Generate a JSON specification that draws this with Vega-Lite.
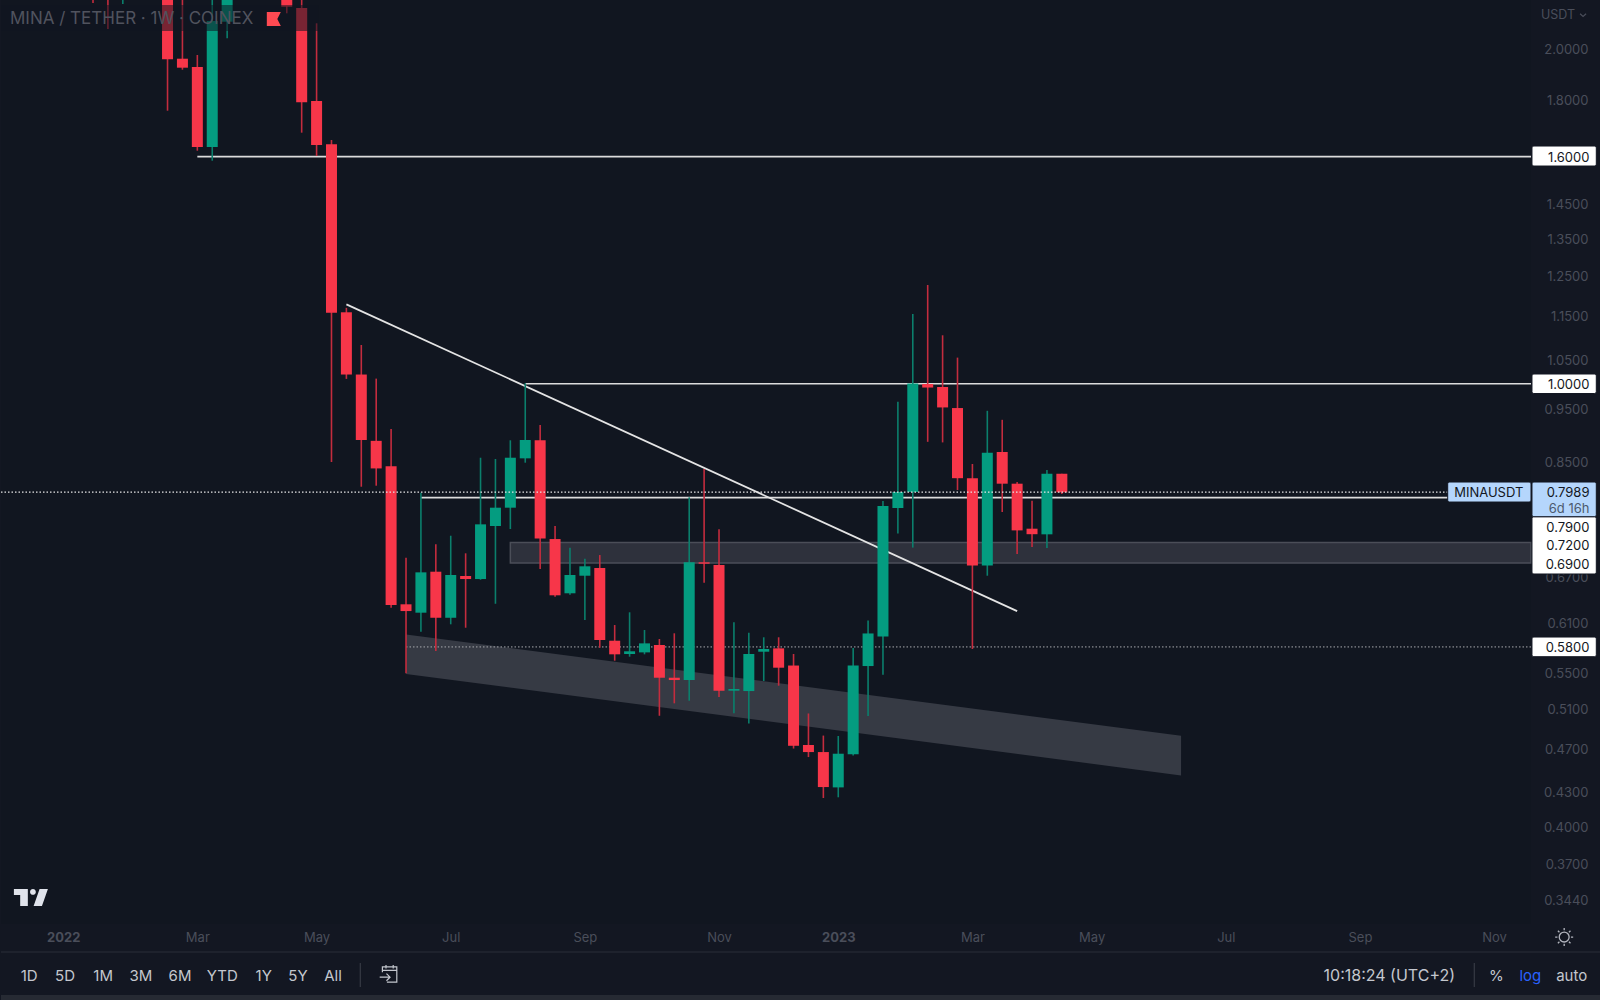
{
  "$schema": "https://vega.github.io/schema/vega-lite/v6.json",
  "description": "MINA / TETHER weekly candles with drawn levels",
  "background": "#131722",
  "padding": 0,
  "spacing": 28,
  "bounds": "flush",
  "config": {"font": "Inter", "view": {"stroke": null}},
  "datasets": {
    "weeks": [
      {"date": "2022-01-17", "open": 2.6, "high": 2.7, "low": 2.199, "close": 2.45},
      {"date": "2022-01-24", "open": 2.9, "high": 3.0, "low": 2.0837, "close": 2.5},
      {"date": "2022-01-31", "open": 2.3, "high": 2.7, "low": 2.194, "close": 2.6},
      {"date": "2022-02-21", "open": 2.35, "high": 2.6, "low": 1.7594, "close": 1.957},
      {"date": "2022-02-28", "open": 1.9593, "high": 2.5, "low": 1.9152, "close": 1.9232},
      {"date": "2022-03-07", "open": 1.926, "high": 1.9744, "low": 1.6196, "close": 1.6321},
      {"date": "2022-03-14", "open": 1.6321, "high": 2.5, "low": 1.5865, "close": 2.1183},
      {"date": "2022-03-21", "open": 2.1152, "high": 2.6, "low": 2.0438, "close": 2.45},
      {"date": "2022-04-18", "open": 2.4, "high": 2.5, "low": 2.1524, "close": 2.182},
      {"date": "2022-04-25", "open": 2.1761, "high": 2.5, "low": 1.6812, "close": 1.7902},
      {"date": "2022-05-02", "open": 1.7951, "high": 2.1083, "low": 1.602, "close": 1.6389},
      {"date": "2022-05-09", "open": 1.6412, "high": 1.6559, "low": 0.8504, "close": 1.1583},
      {"date": "2022-05-16", "open": 1.1593, "high": 1.17, "low": 1.01, "close": 1.0192},
      {"date": "2022-05-23", "open": 1.0192, "high": 1.0834, "low": 0.808, "close": 0.89},
      {"date": "2022-05-30", "open": 0.8885, "high": 1.0106, "low": 0.8097, "close": 0.8392},
      {"date": "2022-06-06", "open": 0.8429, "high": 0.9105, "low": 0.629, "close": 0.6326},
      {"date": "2022-06-13", "open": 0.6335, "high": 0.6976, "low": 0.5492, "close": 0.6247},
      {"date": "2022-06-20", "open": 0.6226, "high": 0.798, "low": 0.5985, "close": 0.6768},
      {"date": "2022-06-27", "open": 0.6777, "high": 0.7172, "low": 0.5751, "close": 0.6161},
      {"date": "2022-07-04", "open": 0.6161, "high": 0.7301, "low": 0.6078, "close": 0.6731},
      {"date": "2022-07-11", "open": 0.6717, "high": 0.704, "low": 0.6035, "close": 0.6675},
      {"date": "2022-07-18", "open": 0.6675, "high": 0.858, "low": 0.6665, "close": 0.7475},
      {"date": "2022-07-25", "open": 0.7449, "high": 0.8557, "low": 0.6342, "close": 0.7737},
      {"date": "2022-08-01", "open": 0.7737, "high": 0.8895, "low": 0.7403, "close": 0.858},
      {"date": "2022-08-08", "open": 0.8569, "high": 1.0008, "low": 0.8492, "close": 0.89},
      {"date": "2022-08-15", "open": 0.8895, "high": 0.9181, "low": 0.6815, "close": 0.7261},
      {"date": "2022-08-22", "open": 0.7251, "high": 0.7449, "low": 0.6435, "close": 0.6454},
      {"date": "2022-08-29", "open": 0.6481, "high": 0.7122, "low": 0.6462, "close": 0.6731},
      {"date": "2022-09-05", "open": 0.6721, "high": 0.6962, "low": 0.6132, "close": 0.6853},
      {"date": "2022-09-12", "open": 0.6829, "high": 0.7015, "low": 0.579, "close": 0.5884},
      {"date": "2022-09-19", "open": 0.5875, "high": 0.6069, "low": 0.5637, "close": 0.5712},
      {"date": "2022-09-26", "open": 0.5716, "high": 0.6231, "low": 0.5684, "close": 0.5748},
      {"date": "2022-10-03", "open": 0.5735, "high": 0.6007, "low": 0.5712, "close": 0.5843},
      {"date": "2022-10-10", "open": 0.5823, "high": 0.5896, "low": 0.503, "close": 0.5442},
      {"date": "2022-10-17", "open": 0.5442, "high": 0.5966, "low": 0.5161, "close": 0.5416},
      {"date": "2022-10-24", "open": 0.5416, "high": 0.7905, "low": 0.5189, "close": 0.691},
      {"date": "2022-10-31", "open": 0.691, "high": 0.8382, "low": 0.6624, "close": 0.689},
      {"date": "2022-11-07", "open": 0.6871, "high": 0.7398, "low": 0.5229, "close": 0.5298},
      {"date": "2022-11-14", "open": 0.5298, "high": 0.6103, "low": 0.5056, "close": 0.5316},
      {"date": "2022-11-21", "open": 0.5294, "high": 0.5973, "low": 0.495, "close": 0.5716},
      {"date": "2022-11-28", "open": 0.5743, "high": 0.5917, "low": 0.5405, "close": 0.5775},
      {"date": "2022-12-05", "open": 0.5783, "high": 0.5917, "low": 0.5353, "close": 0.5556},
      {"date": "2022-12-12", "open": 0.5581, "high": 0.5716, "low": 0.47, "close": 0.4727},
      {"date": "2022-12-19", "open": 0.4735, "high": 0.5054, "low": 0.4618, "close": 0.4666},
      {"date": "2022-12-26", "open": 0.4666, "high": 0.4828, "low": 0.4243, "close": 0.434},
      {"date": "2023-01-02", "open": 0.4337, "high": 0.4824, "low": 0.4249, "close": 0.465},
      {"date": "2023-01-09", "open": 0.4644, "high": 0.5787, "low": 0.4634, "close": 0.5582},
      {"date": "2023-01-16", "open": 0.5575, "high": 0.6127, "low": 0.5027, "close": 0.5964},
      {"date": "2023-01-23", "open": 0.5926, "high": 0.7844, "low": 0.5476, "close": 0.7764},
      {"date": "2023-01-30", "open": 0.7732, "high": 0.9636, "low": 0.7334, "close": 0.7992},
      {"date": "2023-02-06", "open": 0.7992, "high": 1.1552, "low": 0.7124, "close": 1.0006},
      {"date": "2023-02-13", "open": 0.9994, "high": 1.2266, "low": 0.8867, "close": 0.9921},
      {"date": "2023-02-20", "open": 0.9932, "high": 1.1054, "low": 0.8856, "close": 0.9521},
      {"date": "2023-02-27", "open": 0.9509, "high": 1.0555, "low": 0.8025, "close": 0.8224},
      {"date": "2023-03-06", "open": 0.8224, "high": 0.8469, "low": 0.5775, "close": 0.6866},
      {"date": "2023-03-13", "open": 0.6866, "high": 0.9455, "low": 0.6721, "close": 0.8668},
      {"date": "2023-03-20", "open": 0.8682, "high": 0.928, "low": 0.7668, "close": 0.8131},
      {"date": "2023-03-27", "open": 0.8131, "high": 0.8159, "low": 0.703, "close": 0.7382},
      {"date": "2023-04-03", "open": 0.7408, "high": 0.7848, "low": 0.7132, "close": 0.7324},
      {"date": "2023-04-10", "open": 0.7322, "high": 0.8364, "low": 0.7118, "close": 0.83},
      {"date": "2023-04-17", "open": 0.83, "high": 0.83, "low": 0.7959, "close": 0.7987}
    ],
    "levels": [
      {"price": 1.6, "start": "2022-03-07", "end": "2023-11-23T08:00:00Z"},
      {"price": 1.0, "start": "2022-08-08", "end": "2023-11-23T08:00:00Z"},
      {"price": 0.79, "start": "2022-06-20", "end": "2023-11-23T08:00:00Z"}
    ],
    "tags": [
      {"kind": "white", "start": "2023-11-23T19:00:00Z", "end": "2023-12-24", "top": 1.6354, "bottom": 1.5691},
      {"kind": "white", "start": "2023-11-23T19:00:00Z", "end": "2023-12-24", "top": 1.0203, "bottom": 0.9799},
      {"kind": "white", "start": "2023-11-23T19:00:00Z", "end": "2023-12-24", "top": 0.7594, "bottom": 0.6745},
      {"kind": "white", "start": "2023-11-23T19:00:00Z", "end": "2023-12-24", "top": 0.592, "bottom": 0.5684},
      {"kind": "blue", "start": "2023-11-23T19:00:00Z", "end": "2023-12-24", "top": 0.8159, "bottom": 0.7594},
      {"kind": "blue", "start": "2023-10-15T05:00:00Z", "end": "2023-11-23T08:00:00Z", "top": 0.8159, "bottom": 0.7828}
    ],
    "tagLabels": [
      {"label": "1.6000", "date": "2023-12-20T19:00:00Z", "price": 1.6},
      {"label": "1.0000", "date": "2023-12-20T19:00:00Z", "price": 1.0},
      {"label": "0.7989", "date": "2023-12-20T19:00:00Z", "price": 0.7987},
      {"label": "6d 16h", "date": "2023-12-20T19:00:00Z", "price": 0.7737},
      {"label": "0.7900", "date": "2023-12-20T19:00:00Z", "price": 0.7439},
      {"label": "0.7200", "date": "2023-12-20T19:00:00Z", "price": 0.7162},
      {"label": "0.6900", "date": "2023-12-20T19:00:00Z", "price": 0.6886},
      {"label": "0.5800", "date": "2023-12-20T19:00:00Z", "price": 0.58}
    ],
    "toolbar": [
      {"label": "1D", "slot": 28.2},
      {"label": "5D", "slot": 64},
      {"label": "1M", "slot": 102.2},
      {"label": "3M", "slot": 140},
      {"label": "6M", "slot": 179},
      {"label": "YTD", "slot": 221.3},
      {"label": "1Y", "slot": 262.7},
      {"label": "5Y", "slot": 297},
      {"label": "All", "slot": 332},
      {"label": "%", "slot": 1495.3},
      {"label": "log", "slot": 1529.3},
      {"label": "auto", "slot": 1570.7}
    ]
  },
  "vconcat": [
    {
      "width": 1530,
      "height": 924,
      "view": {"fill": "#111620", "stroke": null},
      "layer": [
        {
          "data": {"values": [
            {"date": "2022-06-13", "top": 0.5951, "bottom": 0.5484},
            {"date": "2023-06-12", "top": 0.4827, "bottom": 0.4446}
          ]},
          "mark": {"type": "area", "color": "#363a44"},
          "encoding": {
            "x": {
              "field": "date",
              "type": "temporal",
              "title": null,
              "scale": {"type": "utc", "padding": 0, "domain": ["2021-12-04T19:00:00Z", "2023-11-23T08:00:00Z"]},
              "axis": {
                "values": ["2022-01-03", "2022-03-07", "2022-05-02", "2022-07-04", "2022-09-05", "2022-11-07", "2023-01-02", "2023-03-06", "2023-05-01", "2023-07-03", "2023-09-04", "2023-11-06"],
                "labelExpr": "utcmonth(datum.value)==0 ? utcFormat(datum.value,'%Y') : utcFormat(datum.value,'%b')",
                "labelFontWeight": {"condition": {"test": "utcmonth(datum.value)==0", "value": "bold"}, "value": "normal"},
                "labelColor": "#4a4e5a",
                "labelFontSize": 13,
                "labelPadding": 7,
                "labelOverlap": false,
                "labelFlush": false,
                "domain": false,
                "ticks": false,
                "grid": false,
                "title": null
              }
            },
            "y": {
              "field": "top",
              "type": "quantitative",
              "title": null,
              "scale": {"type": "log", "domain": [0.3269, 2.2124], "nice": false},
              "axis": {
                "orient": "right",
                "values": [2, 1.8, 1.45, 1.35, 1.25, 1.15, 1.05, 0.95, 0.85, 0.67, 0.61, 0.55, 0.51, 0.47, 0.43, 0.4, 0.37, 0.344],
                "format": ".4f",
                "labelAlign": "right",
                "labelPadding": 57,
                "labelOffset": 0.7,
                "labelColor": "#4a4e5a",
                "labelFontSize": 13,
                "labelOverlap": false,
                "labelFlush": false,
                "domain": false,
                "ticks": false,
                "grid": false,
                "title": null
              }
            },
            "y2": {"field": "bottom"}
          }
        },
        {
          "data": {"values": [{"start": "2022-08-01", "end": "2023-11-23T08:00:00Z", "top": 0.72, "bottom": 0.69}]},
          "mark": {"type": "rect", "fill": "#2e313c", "stroke": "#4b4e58", "strokeWidth": 1.5},
          "encoding": {
            "x": {"field": "start", "type": "temporal"},
            "x2": {"field": "end"},
            "y": {"field": "top", "type": "quantitative"},
            "y2": {"field": "bottom"}
          }
        },
        {
          "data": {"name": "levels"},
          "mark": {"type": "rule", "color": "#dcdcdc", "strokeWidth": 1.6},
          "encoding": {
            "x": {"field": "start", "type": "temporal"},
            "x2": {"field": "end"},
            "y": {"field": "price", "type": "quantitative"}
          }
        },
        {
          "data": {"values": [{"price": 0.58, "start": "2022-06-13", "end": "2023-11-23T08:00:00Z"}]},
          "mark": {"type": "rule", "color": "#a8aab0", "strokeWidth": 1, "strokeDash": [1.5, 2]},
          "encoding": {
            "x": {"field": "start", "type": "temporal"},
            "x2": {"field": "end"},
            "y": {"field": "price", "type": "quantitative"}
          }
        },
        {
          "data": {"values": [
            {"date": "2022-05-16", "price": 1.1786},
            {"date": "2023-03-27", "price": 0.6247}
          ]},
          "mark": {"type": "line", "color": "#e4e4e4", "strokeWidth": 1.8},
          "encoding": {
            "x": {"field": "date", "type": "temporal"},
            "y": {"field": "price", "type": "quantitative"}
          }
        },
        {
          "data": {"name": "weeks"},
          "mark": {"type": "rule", "strokeWidth": 1.6, "clip": true},
          "encoding": {
            "x": {"field": "date", "type": "temporal"},
            "y": {"field": "low", "type": "quantitative"},
            "y2": {"field": "high"},
            "color": {"condition": {"test": "datum.close >= datum.open", "value": "#0b7f6c"}, "value": "#c42c3e"}
          }
        },
        {
          "data": {"name": "weeks"},
          "mark": {"type": "bar", "size": 11, "clip": true},
          "encoding": {
            "x": {"field": "date", "type": "temporal"},
            "y": {"field": "open", "type": "quantitative"},
            "y2": {"field": "close"},
            "color": {"condition": {"test": "datum.close >= datum.open", "value": "#049c80"}, "value": "#f73649"}
          }
        },
        {
          "data": {"values": [{"start": "2021-12-04T19:00:00Z", "end": "2022-05-03", "top": 2.1897, "bottom": 2.0749}]},
          "mark": {"type": "rect", "fill": "#111620", "opacity": 0.55},
          "encoding": {
            "x": {"field": "start", "type": "temporal"},
            "x2": {"field": "end"},
            "y": {"field": "top", "type": "quantitative"},
            "y2": {"field": "bottom"}
          }
        },
        {
          "data": {"values": [{"title": "MINA / TETHER · 1W · COINEX", "date": "2021-12-09T00:00:00Z", "price": 2.127}]},
          "mark": {"type": "text", "align": "left", "baseline": "middle", "fontSize": 17, "color": "#50535e"},
          "encoding": {
            "x": {"field": "date", "type": "temporal"},
            "y": {"field": "price", "type": "quantitative"},
            "text": {"field": "title"}
          }
        },
        {
          "data": {"values": [{"date": "2022-04-11T22:00:00Z", "price": 2.127}]},
          "mark": {"type": "point", "shape": "M-1,-1L1,-1L.5,0L1,1L-1,1Z", "size": 196, "filled": true, "fill": "#ff4a52", "stroke": null, "opacity": 1},
          "encoding": {
            "x": {"field": "date", "type": "temporal"},
            "y": {"field": "price", "type": "quantitative"}
          }
        },
        {
          "data": {"values": [{"price": 0.7989, "start": "2021-12-04T19:00:00Z", "end": "2023-10-15T05:00:00Z"}]},
          "mark": {"type": "rule", "color": "#e6e6e6", "strokeWidth": 1.2, "strokeDash": [1.5, 2]},
          "encoding": {
            "x": {"field": "start", "type": "temporal"},
            "x2": {"field": "end"},
            "y": {"field": "price", "type": "quantitative"}
          }
        },
        {
          "data": {"name": "tags"},
          "mark": {"type": "rect", "cornerRadius": 2, "stroke": "#131722", "strokeWidth": 1},
          "encoding": {
            "x": {"field": "start", "type": "temporal"},
            "x2": {"field": "end"},
            "y": {"field": "top", "type": "quantitative"},
            "y2": {"field": "bottom"},
            "fill": {"field": "kind", "type": "nominal", "legend": null, "scale": {"domain": ["blue", "white"], "range": ["#b5d6fc", "#ffffff"]}}
          }
        },
        {
          "data": {"name": "tagLabels"},
          "mark": {"type": "text", "align": "right", "baseline": "middle", "fontSize": 13, "dy": 1},
          "encoding": {
            "x": {"field": "date", "type": "temporal"},
            "y": {"field": "price", "type": "quantitative"},
            "text": {"field": "label"},
            "color": {"condition": {"test": "datum.label == '6d 16h'", "value": "#4c5a6e"}, "value": "#131722"}
          }
        },
        {
          "data": {"values": [{"label": "MINAUSDT", "date": "2023-11-03T12:00:00Z", "price": 0.7987}]},
          "mark": {"type": "text", "align": "center", "baseline": "middle", "fontSize": 13, "dy": 1, "color": "#131722"},
          "encoding": {
            "x": {"field": "date", "type": "temporal"},
            "y": {"field": "price", "type": "quantitative"},
            "text": {"field": "label"}
          }
        },
        {
          "data": {"values": [{"label": "USDT", "date": "2023-12-14T00:00:00Z", "price": 2.1447}]},
          "mark": {"type": "text", "align": "right", "baseline": "middle", "fontSize": 12.5, "color": "#4a4e5a"},
          "encoding": {
            "x": {"field": "date", "type": "temporal"},
            "y": {"field": "price", "type": "quantitative"},
            "text": {"field": "label"}
          }
        },
        {
          "data": {"values": [{"date": "2023-12-17T19:00:00Z", "price": 2.1447}]},
          "mark": {"type": "point", "shape": "M-1,-.4L0,.5L1,-.4", "size": 36, "filled": false, "stroke": "#4a4e5a", "strokeWidth": 1.2, "opacity": 1},
          "encoding": {
            "x": {"field": "date", "type": "temporal"},
            "y": {"field": "price", "type": "quantitative"}
          }
        },
        {
          "data": {"values": [{"date": "2021-12-18T20:00:00Z", "price": 0.3453}]},
          "mark": {"type": "point", "shape": "M-1,-.5L-.18,-.5L-.18,.5L-.63,.5L-.63,-.15L-1,-.15ZM-.05,-.33A.17,.17 0 1 1 .29,-.33A.17,.17 0 1 1 -.05,-.33ZM.51,-.5L1,-.5L.65,.5L.16,.5Z", "size": 1156, "filled": true, "fill": "#e0e3eb", "stroke": null, "opacity": 1},
          "encoding": {
            "x": {"field": "date", "type": "temporal"},
            "y": {"field": "price", "type": "quantitative"}
          }
        },
        {
          "data": {"values": [{"date": "2023-12-08T22:00:00Z", "price": 0.3182}]},
          "mark": {"type": "point", "shape": "M.55,0A.55,.55 0 1 1 -.55,0A.55,.55 0 1 1 .55,0ZM0,-.75L0,-1M0,.75L0,1M-.75,0L-1,0M.75,0L1,0M-.53,-.53L-.7,-.7M.53,-.53L.7,-.7M-.53,.53L-.7,.7M.53,.53L.7,.7", "size": 324, "filled": false, "stroke": "#b2b5be", "strokeWidth": 1.3, "opacity": 1},
          "encoding": {
            "x": {"field": "date", "type": "temporal"},
            "y": {"field": "price", "type": "quantitative"}
          }
        }
      ]
    },
    {
      "width": 1600,
      "height": 48,
      "layer": [
        {
          "data": {"values": [{"from": 0, "to": 1600, "top": 43, "bottom": 48}]},
          "mark": {"type": "rect", "fill": "#262a33"},
          "encoding": {
            "x": {"field": "from", "type": "quantitative", "axis": null, "scale": {"domain": [0, 1600], "nice": false, "zero": false}},
            "x2": {"field": "to"},
            "y": {"field": "top", "type": "quantitative", "axis": null, "scale": {"domain": [48, 0], "nice": false, "zero": false}},
            "y2": {"field": "bottom"}
          }
        },
        {
          "data": {"values": [{"from": 0, "to": 1600, "row": 0}]},
          "mark": {"type": "rule", "color": "#2a2e39", "strokeWidth": 1},
          "encoding": {
            "x": {"field": "from", "type": "quantitative"},
            "x2": {"field": "to"},
            "y": {"field": "row", "type": "quantitative"}
          }
        },
        {
          "data": {"values": [{"slot": 359.3, "top": 11, "bottom": 35}, {"slot": 1473.3, "top": 11, "bottom": 35}]},
          "mark": {"type": "rule", "color": "#363a45", "strokeWidth": 1.2},
          "encoding": {
            "x": {"field": "slot", "type": "quantitative"},
            "y": {"field": "top", "type": "quantitative"},
            "y2": {"field": "bottom"}
          }
        },
        {
          "data": {"name": "toolbar"},
          "mark": {"type": "text", "align": "center", "baseline": "middle", "fontSize": 15},
          "encoding": {
            "x": {"field": "slot", "type": "quantitative"},
            "y": {"datum": 24, "type": "quantitative"},
            "text": {"field": "label"},
            "color": {"condition": {"test": "datum.label == 'log'", "value": "#2962ff"}, "value": "#c4c7ce"}
          }
        },
        {
          "data": {"values": [{"label": "10:18:24 (UTC+2)", "slot": 1388.3}]},
          "mark": {"type": "text", "align": "center", "baseline": "middle", "fontSize": 16, "color": "#c4c7ce"},
          "encoding": {
            "x": {"field": "slot", "type": "quantitative"},
            "y": {"datum": 24, "type": "quantitative"},
            "text": {"field": "label"}
          }
        },
        {
          "data": {"values": [{"slot": 387.7, "row": 22}]},
          "mark": {"type": "point", "shape": "M-.7,-.2L-.7,-.8L.9,-.8L.9,.9L-.2,.9M-.7,-.4L.9,-.4M-.3,-1L-.3,-.6M.5,-1L.5,-.6M-1,.35L.1,.35M-.25,-.05L.15,.35L-.25,.75", "size": 324, "filled": false, "stroke": "#c4c7ce", "strokeWidth": 1.2, "opacity": 1},
          "encoding": {
            "x": {"field": "slot", "type": "quantitative"},
            "y": {"field": "row", "type": "quantitative"}
          }
        }
      ]
    }
  ]
}
